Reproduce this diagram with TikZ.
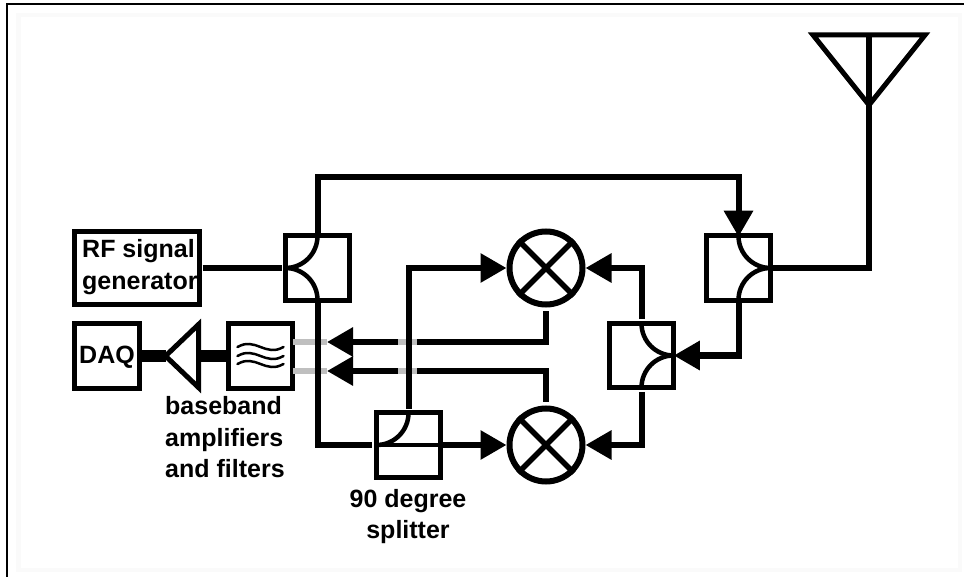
\documentclass[tikz,border=0pt]{standalone}
\usepackage{fontspec}
\setmainfont{Liberation Sans}
\usetikzlibrary{arrows.meta,calc,shapes.geometric}
\tikzset{
  x=1pt,y=-1pt,
  wire/.style={line width=6pt,line cap=butt,line join=miter},
  greywire/.style={line width=6pt,draw=black!25},
  box/.style={draw,line width=5pt,minimum size=64.5pt,inner sep=0pt,outer sep=0pt},
  txt/.style={font=\fontsize{25}{31}\selectfont\bfseries,inner sep=0pt,anchor=base west},
  mixer/.style={circle,draw,line width=6pt,minimum size=73pt,inner sep=0pt,outer sep=3pt},
  head/.style={-{Triangle[length=26pt,width=28pt]}},
  curve/.style={line width=4.5pt,rounded corners=32pt},
}
\begin{document}
\begin{tikzpicture}
\useasboundingbox (0,0) rectangle (964,577);
% faint page band and frame
\draw[line width=4.5pt,draw=black!2] (18.5,15) rectangle (960,570);
\draw[line width=1.4pt] (964,4) -- (7,4) -- (7,577);

% boxes
\node[box,minimum width=125pt,minimum height=73pt] (rf) at (137,268) {};
\node[box] (c1) at (317.5,268) {};
\node[box] (c3) at (738.5,268) {};
\node[box] (c4) at (641.5,355.5) {};
\node[box] (c5) at (408.5,445) {};
\node[box] (daq) at (107,356) {};
\node[box] (flt) at (260.5,356) {};
\node[isosceles triangle,isosceles triangle stretches,shape border rotate=180,draw,line width=5pt,
      minimum height=33pt,minimum width=63pt,inner sep=0pt,outer sep=0pt,anchor=apex] (amp) at (165.5,356) {};
\node[isosceles triangle,isosceles triangle stretches,shape border rotate=-90,draw,line width=5pt,
      minimum height=70pt,minimum width=112pt,inner sep=0pt,outer sep=0pt,anchor=apex] (ant) at (869,105) {};
\node[mixer] (m1) at (546,268) {};
\node[mixer] (m2) at (546,445) {};

% mixer crosses
\foreach \m in {m1,m2}{
  \draw[line width=5.5pt] (\m.45) -- (\m.225);
  \draw[line width=5.5pt] (\m.135) -- (\m.315);
}

% coupler curves
\draw[curve] (c1.west) -| (c1.north);
\draw[curve] (c1.west) -| (c1.south);
\draw[curve] (c3.east) -| (c3.north);
\draw[curve] (c3.east) -| (c3.south);
\draw[curve] (c4.east) -| (c4.north);
\draw[curve] (c4.east) -| (c4.south);
\draw[curve] (c5.west) -| (c5.north);
\draw[line width=4.5pt] (c5.west) -- (c5.east);

% filter waves
\begin{scope}[shift={(flt.center)}]
  \foreach \yy in {-9,0,8}
    \draw[line width=2.5pt,line cap=round] (-23,\yy) .. controls (-14,\yy-5) and (-8,\yy-3) .. (0,\yy) .. controls (8,\yy+3) and (14,\yy+5) .. (23,\yy);
\end{scope}

% baseband connectors
\coordinate (t1) at (327,342);
\coordinate (t2) at (327,371);
\coordinate (g1a) at (398,342);
\coordinate (g1b) at (417,342);
\coordinate (g2a) at (398,371);
\coordinate (g2b) at (417,371);
\draw[wire,head,shorten <=4pt] (m1.south) |- (t1);
\draw[wire,head,shorten <=4pt] (m2.north) |- (t2);
\draw[greywire] (flt.east |- t1) -- (t1);
\draw[greywire] (flt.east |- t2) -- (t2);
\draw[greywire] (g1a) -- (g1b);
\draw[greywire] (g2a) -- (g2b);

% thick baseband path
\draw[line width=12pt] (flt.west) -- (amp.lower side);
\draw[line width=12pt] (amp.apex) -- (daq.east);

% RF connectors
\draw[wire,shorten >=3pt,shorten <=3pt] (rf.east) -- (c1.west);
\coordinate (top) at (317.5,177);
\draw[wire,head,shorten >=-1pt] (c1.north) -- (top) -| (c3.north);
\draw[wire,shorten <=3pt,shorten >=4pt] (c1.south) |- (c5.west);
\draw[wire,head] (c5.east) -- (m2.west);
\coordinate (up) at (c5.north |- m1);
\draw[wire,shorten <=4pt,head] (c5.north) -- (up) -- (m1.west);

\draw[wire,head,shorten <=4pt] (c4.north) |- (m1.east);
\draw[wire,head,shorten <=4pt] (c4.south) |- (m2.east);
\draw[wire,head] (c3.south) |- (c4.east);

% antenna feed
\draw[wire] (c3.east) -| (ant.apex);
\draw[wire] (ant.apex) -- (ant.lower side);

% labels
\node[txt] (l1) at (82,258) {RF signal};
\node[txt] (l2) at (82,290) {generator};
\node[txt] (l3) at (79,363) {DAQ};
\node[txt] (l4) at (165,414) {baseband};
\node[txt] (l5) at (165,446) {amplifiers};
\node[txt] (l6) at (165,477) {and filters};
\node[txt,anchor=base] (l7) at (408,507) {90 degree};
\node[txt,anchor=base] (l8) at (408,538) {splitter};
\end{tikzpicture}
\end{document}
